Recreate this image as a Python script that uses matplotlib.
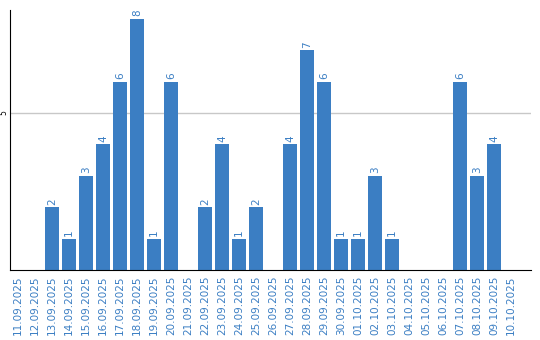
import matplotlib
matplotlib.use("Agg")
import matplotlib.pyplot as plt

dates = ["11.09.2025", "12.09.2025", "13.09.2025", "14.09.2025", "15.09.2025",
         "16.09.2025", "17.09.2025", "18.09.2025", "19.09.2025", "20.09.2025",
         "21.09.2025", "22.09.2025", "23.09.2025", "24.09.2025", "25.09.2025",
         "26.09.2025", "27.09.2025", "28.09.2025", "29.09.2025", "30.09.2025",
         "01.10.2025", "02.10.2025", "03.10.2025", "04.10.2025", "05.10.2025",
         "06.10.2025", "07.10.2025", "08.10.2025", "09.10.2025", "10.10.2025"]
counts = [0, 0, 2, 1, 3, 4, 6, 8, 1, 6,
          0, 2, 4, 1, 2, 0, 4, 7, 6, 1,
          1, 3, 1, 0, 0, 0, 6, 3, 4, 0]

blue = "#3b7ec3"

fig = plt.figure(figsize=(5.4, 3.4), dpi=100)
ax = fig.add_axes([10/540, 70/340, 521/540, 260/340])

x = range(len(dates))
ax.bar(x, counts, width=0.82, color=blue, zorder=2)
for xi, v in zip(x, counts):
    if v > 0:
        ax.text(xi, v + 0.08, str(v), rotation=90, ha="center", va="bottom",
                color=blue, fontsize=7.5)

ax.set_xlim(-0.47, 30.18)
ax.set_ylim(0, 8.28)
ax.set_yticks([5])
ax.set_yticklabels(["5"], rotation=90, va="center", fontsize=5.5)
ax.tick_params(axis="y", length=0, pad=1)
ax.yaxis.grid(True, color="#c8c8c8", linewidth=1, zorder=0)

ax.set_xticks(list(x))
ax.set_xticklabels(dates, rotation=90, color=blue, fontsize=7.5)
ax.tick_params(axis="x", length=0, pad=4)

ax.spines["top"].set_visible(False)
ax.spines["right"].set_visible(False)
ax.spines["left"].set_color("black")
ax.spines["bottom"].set_color("black")
ax.spines["left"].set_zorder(3)
ax.spines["bottom"].set_zorder(3)

fig.savefig("out.png", dpi=100)
